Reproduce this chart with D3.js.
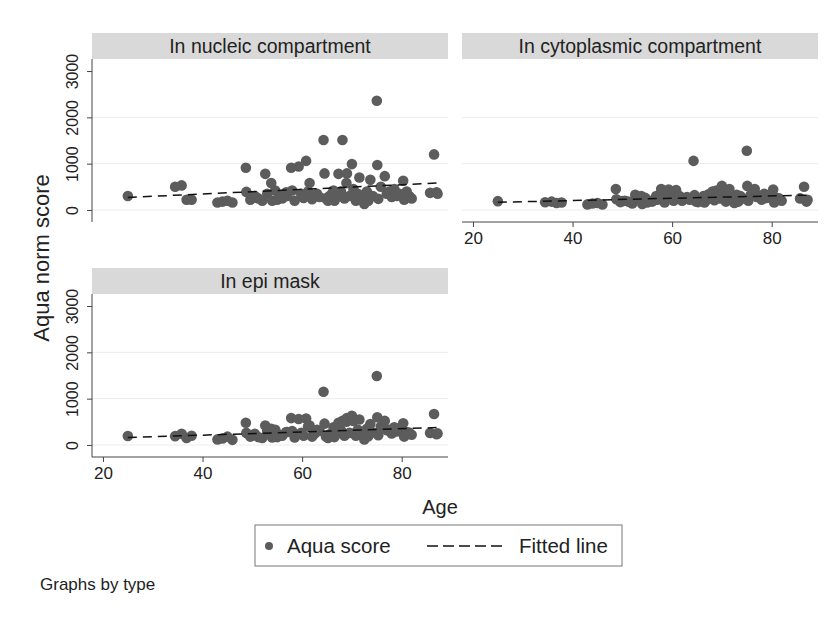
<!DOCTYPE html>
<html>
<head>
<meta charset="utf-8">
<script src="https://cdn.jsdelivr.net/npm/d3@7"></script>
<style>
  body { margin: 0; background: #fff; }
  svg text { font-family: "Liberation Sans", Arial, sans-serif; fill: #222; }
</style>
</head>
<body>
<div id="chart"></div>
<script>
// values (same patients in every panel)
const ages =        [25, 34.5, 35.8, 36.8, 37.8, 43, 44, 45, 46, 48.7, 48.8, 49.6, 50, 50.5, 51.2, 52, 52.6, 53, 53.8, 54, 54.6, 55, 55.5, 56, 56.8, 57, 57.8, 58, 58.5, 59.3, 59.8, 60.3, 60.8, 61.2, 61.5, 62, 62.5, 63, 63.5, 64.3, 64.5, 64.8, 65.2, 65.5, 66, 66.3, 66.5, 67, 67.3, 67.8, 68.1, 68.5, 68.9, 69, 69.5, 70, 70.3, 70.5, 70.8, 71.2, 71.5, 72, 72.5, 73, 73.3, 73.7, 74.2, 75, 75.1, 75.3, 75.8, 76.6, 77, 77.5, 78, 78.5, 78.8, 79, 79.5, 80.3, 80.5, 81, 81.5, 82, 85.7, 86.5, 87, 87.2];
const nucleic =     [300, 500, 530, 220, 220, 160, 180, 200, 160, 910, 390, 220, 260, 300, 250, 200, 780, 350, 580, 200, 420, 220, 300, 250, 380, 300, 910, 420, 200, 940, 350, 260, 1060, 400, 580, 230, 300, 350, 280, 1510, 790, 250, 200, 300, 350, 420, 200, 280, 780, 400, 1510, 250, 580, 790, 300, 990, 450, 280, 200, 350, 700, 250, 130, 400, 200, 650, 300, 2360, 970, 240, 500, 730, 350, 400, 280, 450, 380, 300, 350, 630, 220, 400, 300, 250, 370, 1200, 380, 350];
const cytoplasmic = [190, 165, 180, 150, 160, 120, 140, 150, 120, 450, 230, 170, 190, 200, 180, 140, 330, 250, 300, 130, 260, 160, 200, 180, 300, 220, 450, 340, 160, 440, 300, 200, 430, 300, 300, 200, 250, 280, 220, 1060, 320, 180, 170, 230, 260, 300, 160, 220, 340, 350, 400, 210, 420, 380, 250, 520, 400, 230, 180, 300, 450, 220, 150, 330, 180, 300, 250, 1280, 520, 200, 330, 450, 280, 300, 220, 350, 310, 260, 300, 440, 160, 260, 250, 200, 250, 500, 180, 220];
const epiMask =     [195, 190, 240, 150, 200, 120, 140, 180, 110, 480, 260, 180, 200, 240, 170, 150, 420, 300, 350, 160, 330, 170, 220, 200, 280, 280, 580, 300, 160, 560, 260, 200, 570, 400, 420, 180, 240, 330, 300, 1150, 460, 180, 150, 230, 250, 380, 170, 250, 480, 320, 520, 200, 500, 580, 260, 630, 520, 250, 200, 330, 550, 230, 120, 350, 190, 450, 270, 1490, 600, 210, 400, 520, 320, 330, 250, 380, 360, 290, 300, 470, 180, 280, 270, 220, 260, 670, 230, 250];

// fitted line end points
const fitAges = [25, 87];
const fitNucleic = [270, 580];
const fitCytoplasmic = [165, 320];
const fitEpiMask = [160, 375];

const panelTitles = ["In nucleic compartment", "In cytoplasmic compartment", "In epi mask"];
const yTicks = [0, 1000, 2000, 3000];
const yGrid = [0, 1000, 2000];
const xTicks = [20, 40, 60, 80];

const W = 833, H = 617;
const plotW = 356, plotH = 163, stripH = 26;

const panels = [
  { title: panelTitles[0], values: nucleic, fit: fitNucleic, x0: 92, y0: 33, yAxis: true, xAxis: false },
  { title: panelTitles[1], values: cytoplasmic, fit: fitCytoplasmic, x0: 462, y0: 33, yAxis: false, xAxis: true },
  { title: panelTitles[2], values: epiMask, fit: fitEpiMask, x0: 92, y0: 268, yAxis: true, xAxis: true }
];

const svg = d3.select("#chart").append("svg")
  .attr("width", W)
  .attr("height", H);

svg.append("rect").attr("width", W).attr("height", H).attr("fill", "#fff");

const x = d3.scaleLinear().domain([17.8, 89.3]).range([0, plotW]);
const y = d3.scaleLinear().domain([-260, 3260]).range([plotH, 0]);

const dotColor = "#5c5c5c";

panels.forEach(p => {
  const g = svg.append("g").attr("transform", `translate(${p.x0},${p.y0})`);

  // strip header
  g.append("rect")
    .attr("x", 0).attr("y", 0)
    .attr("width", plotW).attr("height", stripH)
    .attr("fill", "#d9d9d9");
  g.append("text")
    .attr("x", plotW / 2).attr("y", stripH / 2)
    .attr("dy", "0.36em")
    .attr("text-anchor", "middle")
    .style("font-size", "19.5px")
    .text(p.title);

  const plot = g.append("g").attr("transform", `translate(0,${stripH})`);

  // grid lines
  plot.selectAll(".grid")
    .data(yGrid)
    .join("line")
    .attr("x1", 0).attr("x2", plotW)
    .attr("y1", d => y(d)).attr("y2", d => y(d))
    .attr("stroke", "#ececec")
    .attr("stroke-width", 1);

  // points
  plot.selectAll(".dot")
    .data(ages.map((a, i) => ({ age: a, v: p.values[i] })))
    .join("circle")
    .attr("cx", d => x(d.age))
    .attr("cy", d => y(d.v))
    .attr("r", 5.3)
    .attr("fill", dotColor);

  // fitted line
  plot.append("path")
    .datum(fitAges.map((a, i) => ({ age: a, v: p.fit[i] })))
    .attr("d", d3.line().x(d => x(d.age)).y(d => y(d.v)))
    .attr("fill", "none")
    .attr("stroke", "#111")
    .attr("stroke-width", 1.5)
    .attr("stroke-dasharray", "9,6");

  if (p.yAxis) {
    const ya = plot.append("g")
      .call(d3.axisLeft(y).tickValues(yTicks).tickSize(5).tickPadding(4).tickFormat(d3.format("d")));
    ya.select(".domain").attr("d", `M0,0V${plotH}`).attr("stroke", "#444");
    ya.selectAll(".tick line").attr("stroke", "#444");
    ya.selectAll(".tick text")
      .attr("transform", "rotate(-90)")
      .attr("x", 0).attr("y", -14)
      .attr("dy", 0)
      .attr("text-anchor", "middle")
      .style("font-size", "16px")
      .style("font-family", "Liberation Sans, Arial, sans-serif")
      .attr("fill", "#222");
  }

  if (p.xAxis) {
    const xa = plot.append("g")
      .attr("transform", `translate(0,${plotH})`)
      .call(d3.axisBottom(x).tickValues(xTicks).tickSize(5).tickPadding(5));
    xa.select(".domain").attr("d", `M0,0H${plotW}`).attr("stroke", "#444");
    xa.selectAll(".tick line").attr("stroke", "#444");
    xa.selectAll(".tick text")
      .style("font-size", "17px")
      .style("font-family", "Liberation Sans, Arial, sans-serif")
      .attr("fill", "#222");
  }
});

// axis titles
svg.append("text")
  .attr("transform", "translate(49,258) rotate(-90)")
  .attr("text-anchor", "middle")
  .style("font-size", "22px")
  .text("Aqua norm score");

svg.append("text")
  .attr("x", 440).attr("y", 514)
  .attr("text-anchor", "middle")
  .style("font-size", "20px")
  .text("Age");

// legend
const lg = svg.append("g").attr("transform", "translate(255,525)");
lg.append("rect")
  .attr("width", 367).attr("height", 41)
  .attr("fill", "#fff").attr("stroke", "#777").attr("stroke-width", 1);
lg.append("circle").attr("cx", 14).attr("cy", 21).attr("r", 4).attr("fill", dotColor);
lg.append("text").attr("x", 32).attr("y", 28).style("font-size", "20.5px").text("Aqua score");
lg.append("line")
  .attr("x1", 172).attr("x2", 252).attr("y1", 21).attr("y2", 21)
  .attr("stroke", "#111").attr("stroke-width", 1.5).attr("stroke-dasharray", "11,5");
lg.append("text").attr("x", 264).attr("y", 28).style("font-size", "20.5px").text("Fitted line");

svg.append("text")
  .attr("x", 40).attr("y", 590)
  .style("font-size", "17px")
  .text("Graphs by type");
</script>
</body>
</html>
